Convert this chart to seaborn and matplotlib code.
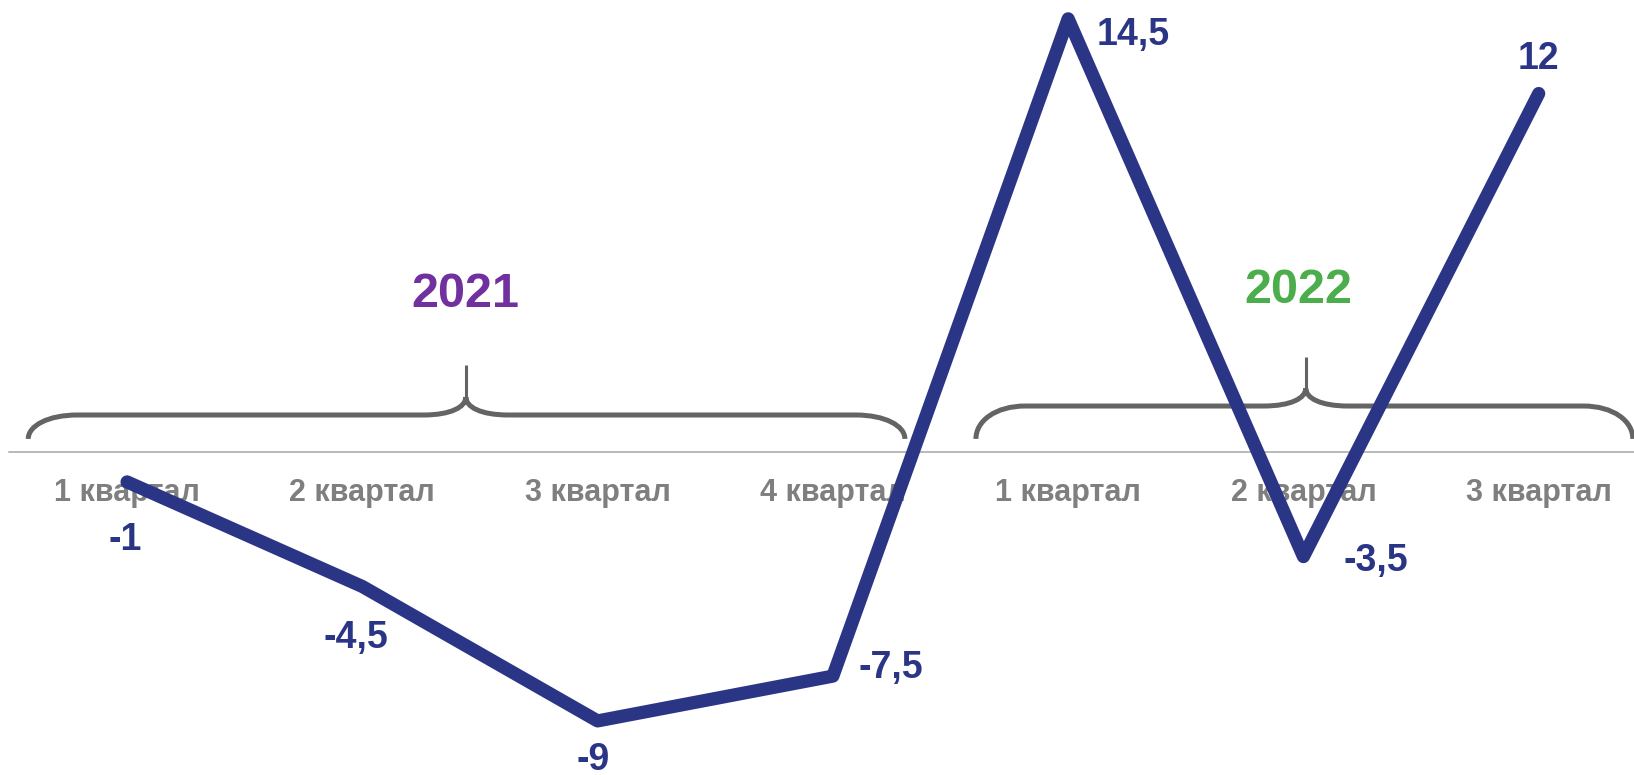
import numpy as np
import pandas as pd
import seaborn as sns
import matplotlib
matplotlib.use('Agg')
import matplotlib.pyplot as plt
from matplotlib.path import Path
from matplotlib.patches import PathPatch

quarters = ['1 квартал', '2 квартал', '3 квартал', '4 квартал',
            '1 квартал', '2 квартал', '3 квартал']
values = [-1, -4.5, -9, -7.5, 14.5, -3.5, 12]
value_labels = ['-1', '-4,5', '-9', '-7,5', '14,5', '-3,5', '12']
years = ['2021', '2022']

NAVY = '#2B3585'
GREY_TXT = '#7F7F7F'
BRACE = '#646464'

sns.set_theme(style='white')
plt.rcParams['font.family'] = ['Liberation Sans', 'DejaVu Sans']

df = pd.DataFrame({'pos': np.arange(len(values)), 'value': values})

fig = plt.figure(figsize=(16.34, 7.75), dpi=100)
ax = fig.add_axes([0, 0, 1, 1])
sns.lineplot(data=df, x='pos', y='value', ax=ax, color=NAVY, linewidth=9.5,
             sort=False, zorder=3, solid_capstyle='round',
             solid_joinstyle='round')

ax.set_xlim(-0.54, 6.405)
ax.set_ylim(-10.81, 15.13)

# zero axis with quarter labels
for side in ['top', 'left', 'right']:
    ax.spines[side].set_visible(False)
ax.spines['bottom'].set_position(('data', 0))
ax.spines['bottom'].set_color('#A6A6A6')
ax.spines['bottom'].set_linewidth(1.1)
ax.spines['bottom'].set_bounds(-0.5, 6.405)
ax.set_xticks(df['pos'], quarters)
ax.tick_params(axis='x', length=0, pad=19, labelsize=22,
               labelcolor=GREY_TXT)
for t in ax.get_xticklabels():
    t.set_fontweight('bold')
ax.set_yticks([])
ax.set_xlabel('')
ax.set_ylabel('')

# value labels (offsets in points)
offsets = [(-1, -42), (-5, -37), (-3, -28), (42, 6), (47, -12), (52, -3), (0, 25)]
for x, y, lab, off in zip(df['pos'], values, value_labels, offsets):
    ax.annotate(lab, (x, y), xytext=off, textcoords='offset points',
                ha='center', va='center', fontsize=27, fontweight='bold',
                color=NAVY, zorder=4)


def brace(ax, x0, x1, xc, yb, yh, yt, rx=0.21, rx2=0.18):
    yn = yh + (yt - yh) * 0.36
    verts, codes = [], []
    for s, xe in ((1, x0), (-1, x1)):
        verts += [(xe, yb), (xe, yb + (yh - yb) * 0.55),
                  (xe + s * rx * 0.4, yh), (xe + s * rx, yh),
                  (xc - s * rx2, yh),
                  (xc - s * rx2 * 0.35, yh), (xc, yn - (yn - yh) * 0.55),
                  (xc, yn)]
        codes += [Path.MOVETO, Path.CURVE4, Path.CURVE4, Path.CURVE4,
                  Path.LINETO, Path.CURVE4, Path.CURVE4, Path.CURVE4]
    ax.add_patch(PathPatch(Path(verts, codes), facecolor='none',
                           edgecolor=BRACE, linewidth=3.6, zorder=2,
                           capstyle='butt'))
    # spike at the tip
    ax.plot([xc, xc], [yn, yt], color=BRACE, linewidth=2.2, zorder=2,
            solid_capstyle='butt')


brace(ax, -0.42, 3.306, 1.44, 0.44, 1.24, 2.91)
brace(ax, 3.608, 6.40, 5.01, 0.44, 1.54, 3.18)

ax.text(1.44, 5.26, years[0], ha='center', va='center', fontsize=35,
        fontweight='bold', color='#7030A0')
ax.text(4.98, 5.42, years[1], ha='center', va='center', fontsize=35,
        fontweight='bold', color='#4CAD4C')

fig.savefig('out.png', dpi=100)
